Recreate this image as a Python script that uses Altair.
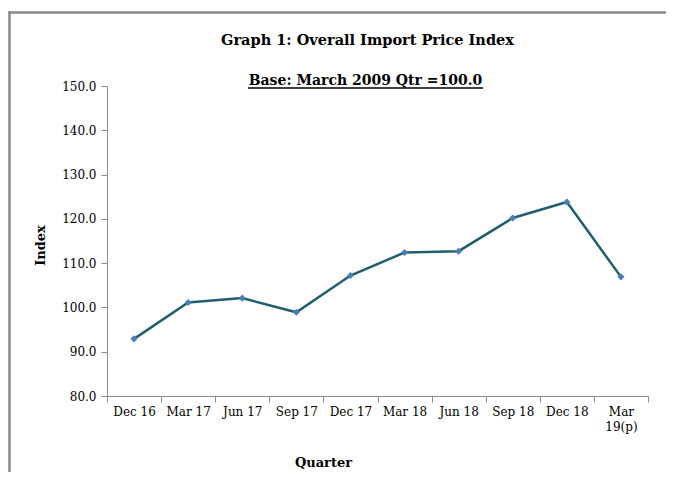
import altair as alt
import pandas as pd

quarters = ["Dec 16", "Mar 17", "Jun 17", "Sep 17", "Dec 17",
            "Mar 18", "Jun 18", "Sep 18", "Dec 18", "Mar 19(p)"]
index_values = [92.9, 101.1, 102.1, 98.9, 107.2, 112.4, 112.7, 120.2, 123.8, 106.9]
y_ticks = [80, 90, 100, 110, 120, 130, 140, 150]
title_text = "Graph 1: Overall Import Price Index"
subtitle_text = "Base: March  2009 Qtr =100.0"

FONT = "DejaVu Serif"
df = pd.DataFrame({"Quarter": quarters, "Index": index_values})

x_enc = alt.X(
    "Quarter:N", sort=quarters,
    scale=alt.Scale(type="band", paddingInner=0, paddingOuter=0),
    axis=alt.Axis(
        title="Quarter", titleX=216, titleY=66, titleFont=FONT, titleFontSize=13,
        titleFontWeight="bold", titleColor="#000", titleBaseline="middle",
        labelFont=FONT, labelFontSize=12, labelColor="#000", labelAngle=0,
        labelPadding=4, labelLineHeight=15,
        labelExpr="datum.label == 'Mar 19(p)' ? ['Mar', '19(p)'] : datum.label",
        tickBand="extent", tickSize=6, tickColor="#8a8a8a", domainColor="#8a8a8a",
        grid=False,
    ),
)
y_enc = alt.Y(
    "Index:Q",
    scale=alt.Scale(domain=[80, 150], nice=False, zero=False),
    axis=alt.Axis(
        title="Index", titleX=-67, titleY=159, titleFont=FONT, titleFontSize=13,
        titleFontWeight="bold", titleColor="#000", titleBaseline="middle",
        titleAlign="center",
        values=y_ticks, format=".1f", labelFont=FONT, labelFontSize=12,
        labelColor="#000", labelPadding=5, tickSize=6, tickColor="#8a8a8a",
        domainColor="#8a8a8a", grid=False,
    ),
)

base = alt.Chart(df)
line = base.mark_line(color="#215e6e", strokeWidth=2.5).encode(x=x_enc, y=y_enc)
pts = base.mark_point(shape="diamond", filled=True, color="#4a7ebb", size=50, opacity=1).encode(
    x=alt.X("Quarter:N", sort=quarters), y="Index:Q")

tdf = pd.DataFrame({"t": [title_text]})
sdf = pd.DataFrame({"t": [subtitle_text]})
title = alt.Chart(tdf).mark_text(font=FONT, fontSize=14.5, fontWeight="bold", color="#000",
                                 align="center", baseline="middle").encode(
    text="t:N", x=alt.value(260.5), y=alt.value(-45.5))
subtitle = alt.Chart(sdf).mark_text(font=FONT, fontSize=14, fontWeight="bold", color="#000",
                                    align="center", baseline="alphabetic").encode(
    text="t:N", x=alt.value(258.5), y=alt.value(-1))
underline = alt.Chart(sdf).mark_rule(color="#000", strokeWidth=1.5).encode(
    x=alt.value(141), x2=alt.value(376), y=alt.value(2))
frame_top = alt.Chart(sdf).mark_rect(color="#8a8a8a", strokeWidth=0).encode(
    x=alt.value(-98.8), x2=alt.value(559), y=alt.value(-74.8), y2=alt.value(-72.3))
frame_left = alt.Chart(sdf).mark_rule(color="#8a8a8a", strokeWidth=2.5).encode(
    x=alt.value(-97.5), y=alt.value(-74.7), y2=alt.value(386))

chart = alt.layer(frame_top, frame_left, line, pts, title, subtitle, underline).properties(
    width=541, height=310,
    background="white",
    autosize=alt.AutoSizeParams(type="none"),
    padding={"left": 99, "top": 78, "right": 19, "bottom": 76},
).configure_view(stroke="transparent", strokeWidth=0)

chart.save("out.html", embed_options={"renderer": "svg", "actions": False})
